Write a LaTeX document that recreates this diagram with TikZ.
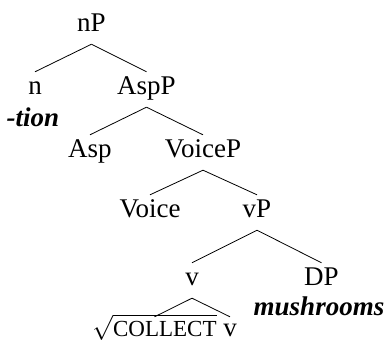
\documentclass[tikz,border=0pt]{standalone}
\usepackage{fontspec}
\setmainfont{Liberation Serif}
\begin{document}
\begin{tikzpicture}[x=1pt,y=-1pt,
  lbl/.style={anchor=base,inner xsep=0pt,inner ysep=7pt,text height=16pt,text depth=5pt,font=\fontsize{27}{30}\selectfont},
  leaf/.style={lbl,text depth=0pt,inner ysep=0pt,text height=19pt},
  sub/.style={anchor=base,inner sep=0pt,font=\fontsize{27}{30}\selectfont\bfseries\itshape},
  edge/.style={line width=0.8pt}]
\useasboundingbox (0,0) rectangle (386,342);
\node[lbl] (nP) at (91.5,32) {nP};
\node[lbl] (n) at (35,95) {n};
\node[sub] (tion) at (33,127) {-tion};
\node[lbl] (AspP) at (146.5,95) {AspP};
\node[lbl] (Asp) at (90,158) {Asp};
\node[lbl] (VoiceP) at (203,158) {VoiceP};
\node[lbl] (Voice) at (150,218) {Voice};
\node[lbl] (vP) at (257,218) {vP};
\node[lbl] (v) at (192,286) {v};
\node[lbl] (DP) at (321.5,286) {DP};
\node[sub] (mush) at (319,316) {mushrooms};
\node[leaf] (root) at (154.5,336) {$\sqrt{\hbox{\fontsize{23}{25}\selectfont COLLECT}}$};
\node[leaf] (v2) at (230,336) {v};
\draw[edge] (nP.south) -- (n.north);
\draw[edge] (nP.south) -- (AspP.north);
\draw[edge] (AspP.south) -- (Asp.north);
\draw[edge] (AspP.south) -- (VoiceP.north);
\draw[edge] (VoiceP.south) -- (Voice.north);
\draw[edge] (VoiceP.south) -- (vP.north);
\draw[edge] (vP.south) -- (v.north);
\draw[edge] (vP.south) -- (DP.north);
\draw[edge] (v.south) -- (root.north);
\draw[edge] (v.south) -- (v2.north);
\end{tikzpicture}
\end{document}
